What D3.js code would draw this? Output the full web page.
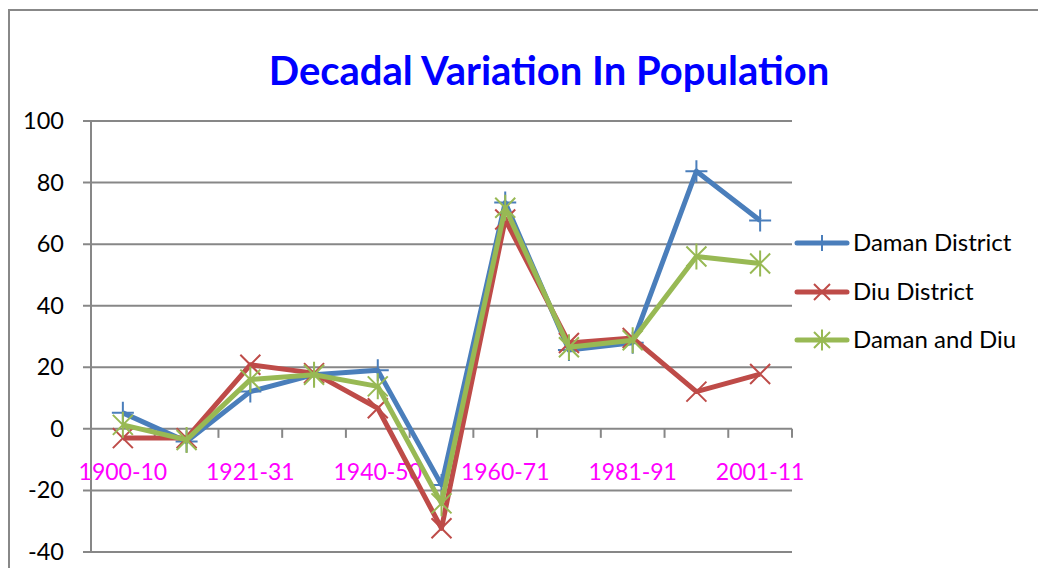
<!DOCTYPE html>
<html><head><meta charset="utf-8">
<script src="https://cdn.jsdelivr.net/npm/d3@7"></script>
<style>body{margin:0;background:#fff}svg{display:block}</style>
</head><body><svg id="c" width="1038" height="568"></svg>
<script>
const categories = ["1900-10","1911-21","1921-31","1931-41","1940-50","1951-61","1960-71","1971-81","1981-91","1991-01","2001-11"];
const damanDistrict = [5.2, -4.1, 12.1, 17.6, 19.0, -18.2, 73.5, 25.6, 28.0, 83.7, 67.7];
const diuDistrict   = [-3.0, -3.0, 20.8, 18.1, 6.7, -32.3, 68.0, 27.9, 29.5, 12.1, 17.8];
const damanAndDiu   = [1.3, -3.6, 16.0, 17.6, 13.8, -24.2, 71.8, 26.5, 28.8, 56.0, 53.7];
const seriesNames = ["Daman District","Diu District","Daman and Diu"];
const yTicks = [-40,-20,0,20,40,60,80,100];
const xLabelShown = ["1900-10","1921-31","1940-50","1960-71","1981-91","2001-11"];

const colors = ["#4A7EBB","#BE4B48","#98B954"];
const markers = ["plus","cross","star"];
const series = [damanDistrict, diuDistrict, damanAndDiu];

const svg = d3.select("#c");
const font = "Lato, 'Open Sans', sans-serif";

// outer frame
svg.append("path").attr("d","M9,568 V10 H1038").attr("fill","none").attr("stroke","#888").attr("stroke-width",2);

// title
svg.append("text").attr("x",549).attr("y",85).attr("text-anchor","middle")
  .attr("font-family",font).attr("font-weight","bold").attr("font-size",40).attr("fill","#0000FF")
  .text("Decadal Variation In Population");

const x0 = 91, x1 = 792;
const x = d3.scaleBand().domain(categories).range([x0,x1]);
const y = d3.scaleLinear().domain([-40,100]).range([552,121]);

const grid = "#878787";
// gridlines
svg.append("g").selectAll("line").data(yTicks).join("line")
  .attr("x1",x0-8).attr("x2",x1).attr("y1",d=>y(d)).attr("y2",d=>y(d))
  .attr("stroke",grid).attr("stroke-width",2);
// y axis line
svg.append("line").attr("x1",x0).attr("x2",x0).attr("y1",y(100)).attr("y2",y(-40)).attr("stroke",grid).attr("stroke-width",2);
// y tick labels
svg.append("g").selectAll("text").data(yTicks).join("text")
  .attr("x",64).attr("y",d=>y(d)+8).attr("text-anchor","end")
  .attr("font-family",font).attr("font-size",23.5).attr("fill","#000").text(d=>d);
// x ticks on zero line
const tickXs = categories.map(c=>x(c)+x.bandwidth()).concat([x0]);
svg.append("g").selectAll("line").data(tickXs).join("line")
  .attr("x1",d=>d).attr("x2",d=>d).attr("y1",y(0)).attr("y2",y(0)+9)
  .attr("stroke",grid).attr("stroke-width",2);
// x labels
svg.append("g").selectAll("text").data(xLabelShown).join("text")
  .attr("x",d=>x(d)+x.bandwidth()/2).attr("y",480).attr("text-anchor","middle")
  .attr("font-family",font).attr("font-size",23).attr("fill","#FF00FF").text(d=>d);

function markerPath(type, s){
  if(type==="plus") return `M${-s},0H${s}M0,${-s}V${s}`;
  if(type==="cross") return `M${-s},${-s}L${s},${s}M${-s},${s}L${s},${-s}`;
  return `M${-s},${-s}L${s},${s}M${-s},${s}L${s},${-s}M0,${-s*1.3}V${s*1.3}`;
}
const line = d3.line().x((d,i)=>x(categories[i])+x.bandwidth()/2).y(d=>y(d));
series.forEach((vals,k)=>{
  const g = svg.append("g");
  g.append("path").attr("d",line(vals)).attr("fill","none").attr("stroke",colors[k])
    .attr("stroke-width",5).attr("stroke-linejoin","round");
  g.selectAll("path.m").data(vals).join("path").attr("class","m")
    .attr("transform",(d,i)=>`translate(${x(categories[i])+x.bandwidth()/2},${y(d)})`)
    .attr("d",markerPath(markers[k], k===0?11:10)).attr("stroke",colors[k]).attr("stroke-width",2).attr("fill","none");
});

// legend
const legY = [243,292,340];
seriesNames.forEach((n,k)=>{
  const g = svg.append("g").attr("transform",`translate(0,${legY[k]})`);
  g.append("line").attr("x1",797).attr("x2",847).attr("stroke",colors[k]).attr("stroke-width",5).attr("stroke-linecap","round");
  g.append("path").attr("transform","translate(822,0)").attr("d",markerPath(markers[k],8))
    .attr("stroke",colors[k]).attr("stroke-width",2).attr("fill","none");
  g.append("text").attr("x",853).attr("y",8).attr("font-family",font).attr("font-size",24)
    .attr("fill","#000").text(n);
});
</script></body></html>
